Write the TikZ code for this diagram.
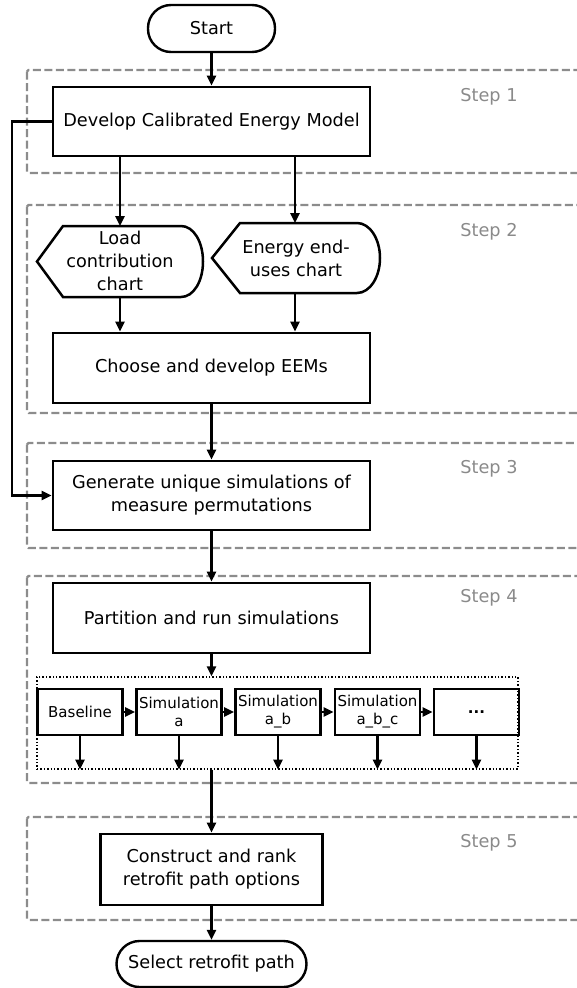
\documentclass[tikz,border=0pt]{standalone}
\usepackage{fontspec}
\setmainfont{DejaVu Sans}
\usetikzlibrary{arrows.meta}
\definecolor{framegray}{HTML}{8C8C8C}
\definecolor{labelgray}{HTML}{8A8A8A}
\newcommand\mainfs{\fontsize{17.7}{23}\selectfont}
\newcommand\smallfs{\fontsize{15}{18}\selectfont}
\tikzset{
  procbox/.style={draw, line width=2.8pt, minimum width=317pt, minimum height=69pt, align=center, font=\mainfs, inner sep=0pt},
  termbox/.style={draw, line width=2.4pt, rounded corners=23pt, minimum width=127pt, minimum height=47pt, align=center, font=\mainfs, inner sep=0pt},
  simbox/.style={draw, line width=2.8pt, minimum width=85pt, minimum height=46pt, align=center, font=\smallfs, inner sep=0pt},
  displine/.style={line width=2.5pt, line join=miter},
  arr/.style={-{Triangle[length=10pt,width=9pt]}, line width=2.4pt},
  stepframe/.style={draw=framegray, line width=2.2pt, dash pattern=on 8pt off 3.5pt, rounded corners=1.5pt},
  steplabel/.style={text=labelgray, font=\mainfs, inner sep=0pt},
  groupbox/.style={draw, dotted, line width=1.4pt, minimum width=481pt, minimum height=92pt, inner sep=0pt}
}
\begin{document}
\begin{tikzpicture}[x=1pt, y=-1pt]
\clip (0,0) rectangle (577,988);
% step frames
\draw[stepframe] (27,70) rectangle (600,173);
\draw[stepframe] (27,205) rectangle (600,413);
\draw[stepframe] (27,443) rectangle (600,548);
\draw[stepframe] (27,576) rectangle (600,783);
\draw[stepframe] (27,817) rectangle (600,920);
\node[steplabel] (s1) at (489,97) {Step 1};
\node[steplabel] (s2) at (489,232) {Step 2};
\node[steplabel] (s3) at (489,469) {Step 3};
\node[steplabel] (s4) at (489,598) {Step 4};
\node[steplabel] (s5) at (489,843) {Step 5};

% nodes
\node[termbox] (start) at (211.5,28.5) {Start};
\node[procbox] (develop) at (211.5,121.5) {Develop Calibrated Energy Model};

\draw[displine] (37,261.5) -- (63,226) -- (181,226)
  .. controls (193.7,226) and (203,241.9) .. (203,261.5)
  .. controls (203,281.1) and (193.7,297) .. (181,297) -- (63,297) -- cycle;
\node[align=center, font=\mainfs, inner sep=0pt] (load) at (120,261) {Load\\contribution\\chart};
\coordinate (loadtop) at (120,226);
\coordinate (loadbot) at (120,297);

\draw[displine] (212,258) -- (240,223) -- (357,223)
  .. controls (369.7,223) and (380,238.7) .. (380,258)
  .. controls (380,277.3) and (369.7,293) .. (357,293) -- (240,293) -- cycle;
\node[align=center, font=\mainfs, inner sep=0pt] (energy) at (296,258) {Energy end-\\uses chart};
\coordinate (enertop) at (295,223);
\coordinate (enerbot) at (295,293);

\node[procbox, minimum height=70pt] (choose) at (211.5,368) {Choose and develop EEMs};
\node[procbox] (generate) at (211.5,495.5) {Generate unique simulations of\\measure permutations};
\node[procbox, minimum height=70pt] (partition) at (211.5,618) {Partition and run simulations};

\node[groupbox] (group) at (277.5,723) {};
\node[simbox] (base) at (80,712) {Baseline};
\node[simbox] (sima) at (179,712) {Simulation\\a};
\node[simbox] (simab) at (278,712) {Simulation\\a\_b};
\node[simbox] (simabc) at (377.5,712) {Simulation\\a\_b\_c};
\node[simbox, font=\smallfs\bfseries] (more) at (476.5,712) {...};

\node[procbox, minimum width=222pt, minimum height=71pt] (construct) at (211.5,869.5) {Construct and rank\\retrofit path options};
\node[termbox, minimum width=190pt, minimum height=46pt] (select) at (211.5,964) {Select retrofit path};

% connectors
\coordinate (fb) at (12,0);
\draw[arr] (start) -- (develop);
\draw[arr] (develop.west) -- (develop.west -| fb) |- (generate.west);
\draw[arr] (develop.south -| loadtop) -- (loadtop);
\draw[arr] (develop.south -| enertop) -- (enertop);
\draw[arr] (loadbot) -- (loadbot |- choose.north);
\draw[arr] (enerbot) -- (enerbot |- choose.north);
\draw[arr] (choose) -- (generate);
\draw[arr] (generate) -- (partition);
\draw[arr] (partition.south) -- (partition.south |- group.north);
\draw[arr] (base) -- (sima);
\draw[arr] (sima) -- (simab);
\draw[arr] (simab) -- (simabc);
\draw[arr] (simabc) -- (more);
\foreach \n in {base,sima,simab,simabc,more}
  \draw[arr] (\n.south) -- (\n.south |- group.south);
\draw[arr] (group.south -| construct) -- (construct.north);
\draw[arr] (construct) -- (select);
\end{tikzpicture}
\end{document}
